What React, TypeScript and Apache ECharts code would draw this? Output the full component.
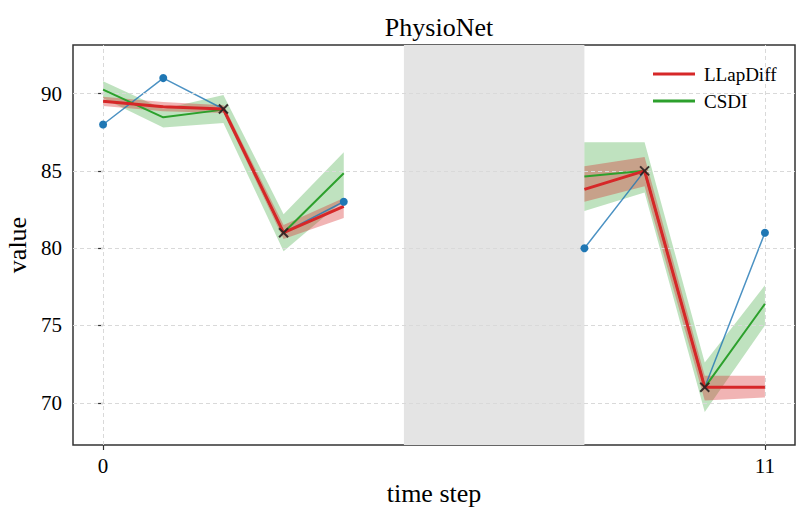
import React, { useEffect, useRef } from "react";
import * as echarts from "echarts";

const steps = [0, 1, 2, 3, 4, 5, 6, 7, 8, 9, 10, 11];
const observed = [88, 91, 89, 81, 83, null, null, null, 80, 85, 71, 81];
const conditionSteps = [0, 1, 4, 8, 11];
const targetSteps = [2, 3, 9, 10];

const llapMean = [89.5, 89.15, 89.0, 81.0, 82.7, null, null, null, 83.8, 85.0, 71.0, 71.0];
const llapLow = [89.2, 88.85, 88.75, 80.6, 81.95, null, null, null, 83.0, 84.0, 70.15, 70.35];
const llapHigh = [89.8, 89.45, 89.25, 81.5, 83.25, null, null, null, 85.3, 85.9, 71.75, 71.75];

const csdiMean = [90.25, 88.46, 88.96, 81.0, 84.85, null, null, null, 84.63, 85.0, 71.0, 76.4];
const csdiLow = [89.7, 87.8, 88.1, 79.8, 83.1, null, null, null, 82.4, 83.6, 69.4, 75.0];
const csdiHigh = [90.8, 89.0, 89.9, 82.2, 86.2, null, null, null, 86.85, 86.85, 72.6, 77.6];

const yTicks = [70, 75, 80, 85, 90];
const xTicks = [0, 11];
const maskedRange = [5, 8];

const FONT = "'Liberation Serif', 'Times New Roman', serif";

function toLine(vals: (number | null)[]) {
  return steps.map((s, i) => [s, vals[i] === null ? "-" : vals[i]]);
}

function segments(lo: (number | null)[], hi: (number | null)[]) {
  const segs: number[][][] = [];
  let cur: number[][] = [];
  steps.forEach((s, i) => {
    if (lo[i] === null || hi[i] === null) {
      if (cur.length) segs.push(cur);
      cur = [];
    } else {
      cur.push([s, lo[i] as number, hi[i] as number]);
    }
  });
  if (cur.length) segs.push(cur);
  return segs;
}

function bandSeries(name: string, lo: (number | null)[], hi: (number | null)[], fill: string, z: number) {
  return segments(lo, hi).map((seg) => ({
    type: "custom",
    name: name + "-band",
    z,
    silent: true,
    data: seg,
    encode: { x: 0, y: [1, 2] },
    renderItem: (params: any, api: any) => {
      if (params.dataIndex !== 0) return null;
      const upper = seg.map((p) => api.coord([p[0], p[2]]));
      const lower = seg.map((p) => api.coord([p[0], p[1]])).reverse();
      return {
        type: "polygon",
        shape: { points: upper.concat(lower) },
        style: { fill, stroke: "none" },
      };
    },
  }));
}

export default function App() {
  const ref = useRef<HTMLDivElement>(null);
  useEffect(() => {
    if (!ref.current) return;
    const chart = echarts.init(ref.current, undefined, { renderer: "svg" });
    const gridLineStyle = { color: "#d9d9d9", width: 1, type: [4, 3] as any };
    const option: any = {
      animation: false,
      backgroundColor: "#fff",
      title: {
        text: "PhysioNet",
        left: 434,
        textAlign: "center",
        top: 9,
        textStyle: { fontFamily: FONT, fontSize: 26, fontWeight: "normal", color: "#000" },
      },
      legend: {
        data: ["LLapDiff", "CSDI"],
        orient: "vertical",
        left: 648,
        top: 59,
        icon: "rect",
        itemWidth: 42,
        itemHeight: 3,
        itemGap: 7,
        textStyle: { fontFamily: FONT, fontSize: 19, color: "#000", lineHeight: 20, padding: [0, 0, 0, 4] },
      },
      grid: {
        left: 73,
        right: 10,
        top: 45,
        bottom: 65,
        show: true,
        borderColor: "#333",
        borderWidth: 1.5,
        backgroundColor: "transparent",
        containLabel: false,
        outerBoundsMode: "none",
      },
      xAxis: {
        type: "value",
        min: -0.5,
        max: 11.5,
        name: "time step",
        nameLocation: "middle",
        nameGap: 34,
        nameTextStyle: { fontFamily: FONT, fontSize: 26, color: "#000" },
        axisLine: { show: false },
        axisTick: { show: true, customValues: xTicks, length: 5, lineStyle: { color: "#333", width: 1.2 } },
        axisLabel: { customValues: xTicks, fontFamily: FONT, fontSize: 21, color: "#000", margin: 10 },
        splitLine: { show: false },
      },
      yAxis: {
        type: "value",
        min: 67.27,
        max: 93.14,
        name: "value",
        nameLocation: "middle",
        nameGap: 43,
        nameRotate: 90,
        nameTextStyle: { fontFamily: FONT, fontSize: 26, color: "#000" },
        axisLine: { show: false },
        axisTick: { show: true, customValues: yTicks, length: 5, lineStyle: { color: "#333", width: 1.2 } },
        axisLabel: { customValues: yTicks, fontFamily: FONT, fontSize: 21, color: "#000", margin: 11 },
        splitLine: { show: false },
      },
      series: [
        {
          type: "line",
          name: "masked",
          data: [],
          z: 0,
          silent: true,
          markArea: {
            silent: true,
            itemStyle: { color: "#e4e4e4" },
            data: [[{ xAxis: maskedRange[0] }, { xAxis: maskedRange[1] }]],
          },
        },
        {
          type: "line",
          name: "grid",
          data: [],
          z: 1,
          silent: true,
          markLine: {
            silent: true,
            symbol: "none",
            label: { show: false },
            lineStyle: gridLineStyle,
            data: [
              ...yTicks.map((v) => ({ yAxis: v })),
              ...xTicks.map((v) => ({ xAxis: v })),
            ],
          },
        },
        ...bandSeries("CSDI", csdiLow, csdiHigh, "rgba(44,160,44,0.3)", 2),
        ...bandSeries("LLapDiff", llapLow, llapHigh, "rgba(214,39,40,0.35)", 3),
        {
          type: "line",
          name: "observed",
          z: 4,
          data: toLine(observed),
          showSymbol: false,
          symbol: "none",
          lineStyle: { color: "rgba(31,119,180,0.8)", width: 1.5 },
          itemStyle: { color: "#1f77b4" },
          connectNulls: false,
        },
        {
          type: "line",
          name: "CSDI",
          z: 5,
          data: toLine(csdiMean),
          symbol: "none",
          lineStyle: { color: "#2ca02c", width: 2 },
          itemStyle: { color: "#2ca02c" },
          connectNulls: false,
        },
        {
          type: "line",
          name: "LLapDiff",
          z: 6,
          data: toLine(llapMean),
          symbol: "none",
          lineStyle: { color: "#d62728", width: 3 },
          itemStyle: { color: "#d62728" },
          connectNulls: false,
        },
        {
          type: "scatter",
          name: "condition",
          z: 7,
          data: conditionSteps.map((s) => [s, observed[s]]),
          symbol: "circle",
          symbolSize: 8,
          itemStyle: { color: "#1f77b4", opacity: 1 },
        },
        {
          type: "scatter",
          name: "target",
          z: 8,
          data: targetSteps.map((s) => [s, observed[s]]),
          symbol: "path://M0,0L10,10M10,0L0,10",
          symbolSize: 9,
          itemStyle: { color: "transparent", borderColor: "#2a2020", borderWidth: 2, opacity: 0.9 },
        },
      ],
    };
    chart.setOption(option);
    return () => chart.dispose();
  }, []);
  return (
    <div
      ref={ref}
      style={{ position: "fixed", left: 0, top: 0, width: 805, height: 510 }}
    />
  );
}
